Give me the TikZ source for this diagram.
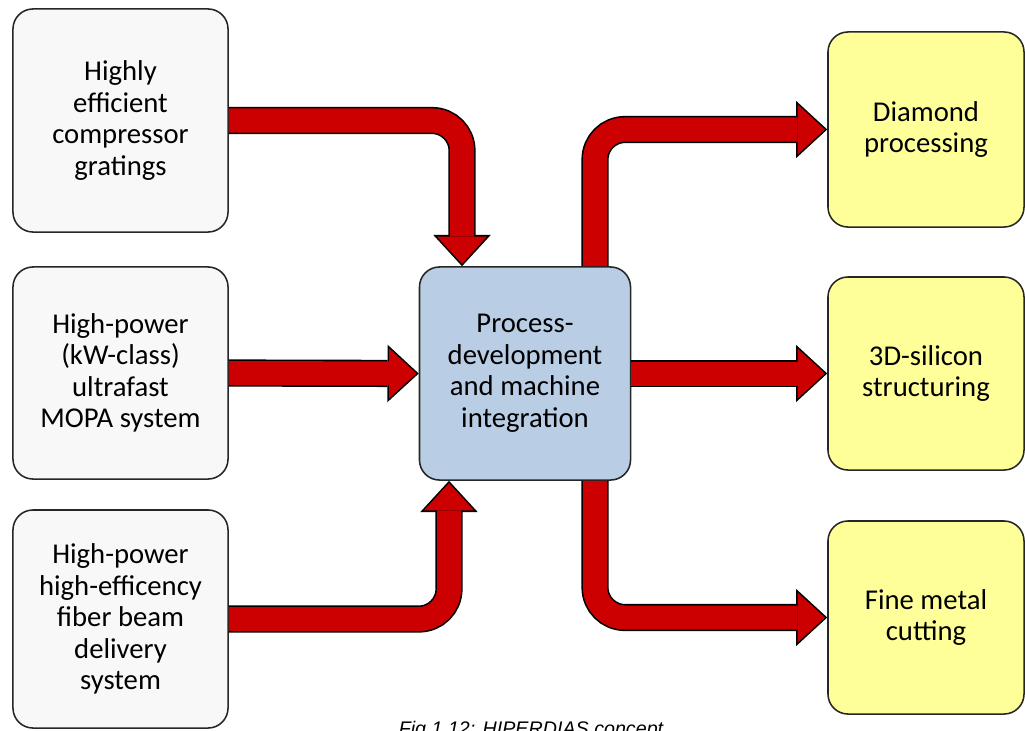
\documentclass[tikz,border=0pt]{standalone}
\usepackage{fontspec}
\setmainfont{Carlito}
\newfontfamily\capfont{Liberation Sans}
\usetikzlibrary{arrows.meta,calc}
\definecolor{srcfill}{HTML}{F8F8F8}
\definecolor{midfill}{HTML}{B9CDE5}
\definecolor{dstfill}{HTML}{FFFF99}
\definecolor{flowred}{HTML}{CC0000}
% thick outlined arrow: black pass below, red pass on top
\newcommand\flow[1]{%
  \draw[flowedge] #1;
  \draw[flowfill] #1;}
\begin{document}
\begin{tikzpicture}[x=0.025cm, y=-0.025cm,
  box/.style={draw=black!85, line width=1.1pt, rounded corners=0.5cm, align=center,
    inner sep=0pt, font=\fontsize{20.4}{22.4}\selectfont},
  srcbox/.style={box, fill=srcfill, minimum width=5.375cm},
  dstbox/.style={box, fill=dstfill, minimum width=4.9cm},
  flowedge/.style={draw=black, line width=0.68cm, rounded corners=0.75cm,
    -{Triangle[length=0.78cm, width=1.434cm, line width=0pt]}},
  flowfill/.style={draw=flowred, line width=0.6cm, rounded corners=0.75cm,
    shorten >=0.059cm, -{Triangle[length=0.68cm, width=1.25cm, line width=0pt]}}]
  \useasboundingbox (0,0) rectangle (1025,730);
  \fill[white] (0,0) rectangle (1025,730);

  \node[srcbox, minimum height=5.575cm] (grat) at (120.5,120.5) {Highly\\efficient\\compressor\\gratings};
  \node[srcbox, minimum height=5.3cm] (mopa) at (120.5,373) {High-power\\(kW-class)\\ultrafast\\MOPA system};
  \node[srcbox, minimum height=5.45cm] (fbd) at (120.5,619) {High-power\\high-efficency\\fiber beam\\delivery\\system};
  \node[box, fill=midfill, minimum width=5.275cm, minimum height=5.325cm] (pdmi) at (525,373.5) {Process-\\development\\and machine\\integration};
  \node[dstbox, minimum height=4.875cm] (diam) at (926,129.5) {Diamond\\processing};
  \node[dstbox, minimum height=4.825cm] (sil) at (926,373.5) {3D-silicon\\structuring};
  \node[dstbox, minimum height=4.825cm] (fmc) at (926,617.5) {Fine metal\\cutting};

  \flow{(grat.east) -| ($(pdmi.north)+(-63,0)$)}
  \flow{(mopa.east) -- (pdmi.west)}
  \flow{(fbd.east) -| ($(pdmi.south)+(-76,0)$)}
  \flow{($(pdmi.north)+(70,0)$) |- (diam.west)}
  \flow{(pdmi.east) -- (sil.west)}
  \flow{($(pdmi.south)+(70,0)$) |- (fmc.west)}

  \node[anchor=base, inner sep=0pt, font=\capfont\itshape\fontsize{14}{16}\selectfont] (cap) at (531,735) {Fig 1.12: HIPERDIAS concept};
\end{tikzpicture}
\end{document}
